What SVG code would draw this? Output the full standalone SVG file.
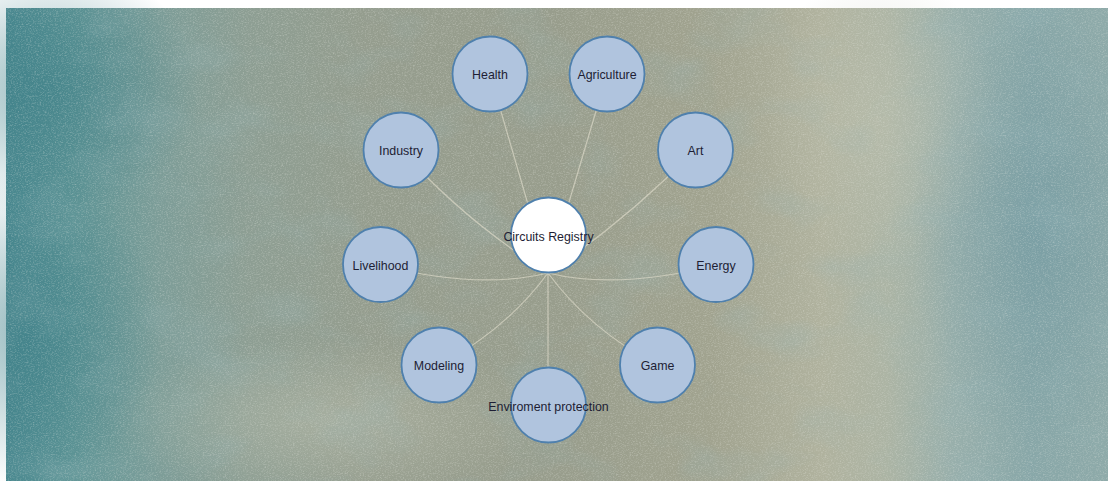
<svg xmlns="http://www.w3.org/2000/svg" width="1108" height="481" viewBox="0 0 1108 481">
  <defs>
    <linearGradient id="wall" x1="0" y1="0" x2="1" y2="0">
      <stop offset="0" stop-color="#4a8990"/>
      <stop offset="0.06" stop-color="#5f9596"/>
      <stop offset="0.14" stop-color="#7d9d98"/>
      <stop offset="0.22" stop-color="#8d9e93"/>
      <stop offset="0.33" stop-color="#959d8e"/>
      <stop offset="0.5" stop-color="#989d8c"/>
      <stop offset="0.64" stop-color="#a1a38f"/>
      <stop offset="0.74" stop-color="#b0b29e"/>
      <stop offset="0.8" stop-color="#acb4a4"/>
      <stop offset="0.86" stop-color="#98afab"/>
      <stop offset="0.93" stop-color="#88a7a8"/>
      <stop offset="1" stop-color="#8eaaa9"/>
    </linearGradient>
    <radialGradient id="tealTL" cx="0.5" cy="0.5" r="0.5">
      <stop offset="0" stop-color="#3a7d86" stop-opacity="0.55"/>
      <stop offset="1" stop-color="#3a7d86" stop-opacity="0"/>
    </radialGradient>
    <radialGradient id="tealR" cx="0.5" cy="0.5" r="0.5">
      <stop offset="0" stop-color="#6a95a0" stop-opacity="0.45"/>
      <stop offset="1" stop-color="#6a95a0" stop-opacity="0"/>
    </radialGradient>
    <radialGradient id="pale" cx="0.5" cy="0.5" r="0.5">
      <stop offset="0" stop-color="#bfc2b0" stop-opacity="0.45"/>
      <stop offset="1" stop-color="#bfc2b0" stop-opacity="0"/>
    </radialGradient>
    <filter id="grain" x="0" y="0" width="100%" height="100%">
      <feTurbulence type="fractalNoise" baseFrequency="0.6 1.1" numOctaves="2" seed="4" result="n"/>
      <feColorMatrix in="n" type="matrix" values="0 0 0 0 0.86  0 0 0 0 0.87  0 0 0 0 0.82  0 0 0 1.7 -0.78"/>
    </filter>
    <filter id="blotch" x="0" y="0" width="100%" height="100%">
      <feTurbulence type="fractalNoise" baseFrequency="0.012 0.02" numOctaves="3" seed="11" result="n"/>
      <feColorMatrix in="n" type="matrix" values="0 0 0 0 0.3  0 0 0 0 0.46  0 0 0 0 0.48  0 0 0 2.2 -1.05"/>
    </filter>
    <style>
      .link { fill: none; stroke: #dcd8c8; stroke-opacity: 0.7; stroke-width: 1.2; }
      .node circle { fill: #b0c4de; stroke: #4f80ad; stroke-width: 1.8; }
      .node.hub circle { fill: #ffffff; }
      .node text { font-family: "Liberation Sans", Arial, sans-serif; font-size: 12.4px; fill: #1e1e34; text-anchor: middle; }
    </style>
  </defs>

  <!-- page margin -->
  <rect width="1108" height="481" fill="#ffffff"/>

  <!-- weathered plaster backdrop -->
  <g id="backdrop">
    <rect x="6" y="8" width="1102" height="473" fill="url(#wall)"/>
    <ellipse cx="50" cy="90" rx="150" ry="130" fill="url(#tealTL)"/>
    <ellipse cx="30" cy="330" rx="130" ry="160" fill="url(#tealTL)"/>
    <ellipse cx="1040" cy="230" rx="130" ry="220" fill="url(#tealR)"/>
    <ellipse cx="330" cy="420" rx="220" ry="80" fill="url(#pale)"/>
    <ellipse cx="880" cy="120" rx="120" ry="150" fill="url(#pale)"/>
    <rect x="6" y="8" width="1102" height="473" filter="url(#blotch)" opacity="0.28"/>
    <rect x="6" y="8" width="1102" height="473" filter="url(#grain)" opacity="0.4"/>
  </g>

  <!-- connectors: each topic to the hub -->
  <g id="links">
    <path class="link" d="M490,74 L548,273"/>
    <path class="link" d="M607,74 L548,273"/>
    <path class="link" d="M401,150 Q466,222 548,273"/>
    <path class="link" d="M695,150 Q628,219 548,273"/>
    <path class="link" d="M380,265 Q478,290 548,273"/>
    <path class="link" d="M716,265 Q618,290 548,273"/>
    <path class="link" d="M439,365 Q506,330 548,273"/>
    <path class="link" d="M657,365 Q590,330 548,273"/>
    <path class="link" d="M548,405 L548,273"/>
  </g>

  <!-- nodes -->
  <g id="node-health" class="node"><circle cx="490" cy="74" r="37.5"/><text x="490" y="79">Health</text></g>
  <g id="node-agriculture" class="node"><circle cx="607" cy="74" r="37.5"/><text x="607" y="79">Agriculture</text></g>
  <g id="node-industry" class="node"><circle cx="401" cy="150" r="37.5"/><text x="401" y="155">Industry</text></g>
  <g id="node-art" class="node"><circle cx="695.5" cy="150" r="37.5"/><text x="695.5" y="155">Art</text></g>
  <g id="node-livelihood" class="node"><circle cx="380.5" cy="264.5" r="37.5"/><text x="380.5" y="269.5">Livelihood</text></g>
  <g id="node-energy" class="node"><circle cx="716" cy="264.5" r="37.5"/><text x="716" y="269.5">Energy</text></g>
  <g id="node-modeling" class="node"><circle cx="439" cy="365" r="37.5"/><text x="439" y="370">Modeling</text></g>
  <g id="node-game" class="node"><circle cx="657.5" cy="365" r="37.5"/><text x="657.5" y="370">Game</text></g>
  <g id="node-hub" class="node hub"><circle cx="548.5" cy="235" r="37.5"/><text x="548.5" y="240.5">Circuits Registry</text></g>
  <g id="node-environment" class="node"><circle cx="548.5" cy="405" r="37.5"/><text x="548.5" y="410.5">Enviroment protection</text></g>
</svg>
